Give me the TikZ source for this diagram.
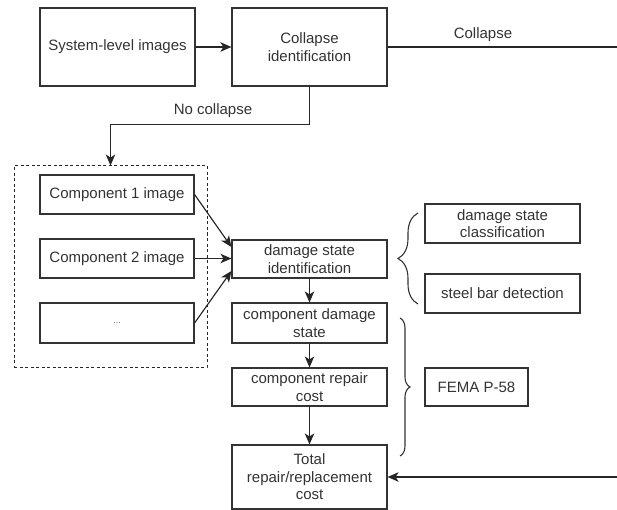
\documentclass[tikz,border=0pt]{standalone}
\usepackage{fontspec}
\setmainfont{Liberation Sans}
\usetikzlibrary{arrows.meta,decorations.pathreplacing,calc}
\begin{document}
\begin{tikzpicture}[x=1pt,y=-1pt,
  box/.style={draw=black!80,line width=1.15pt,align=center,inner sep=2pt,
    font=\fontsize{15}{17.5}\selectfont,text=black!80},
  grpbox/.style={draw=black!85,line width=1pt,dash pattern=on 3pt off 2.5pt},
  arr/.style={draw=black!85,line width=1.15pt,-{Stealth[length=11pt,width=9.5pt,inset=3pt]}},
  ln/.style={draw=black!85,line width=1.15pt},
  lbl/.style={font=\fontsize{15}{17.5}\selectfont,text=black!80},
  brc/.style={draw=black!80,line width=1.1pt,decorate,decoration={brace,aspect=0.5}}]
\useasboundingbox (0,0) rectangle (617,510);
\node[box,minimum width=155pt,minimum height=78pt] (sys) at (117.5,47) {System-level images};
\node[box,minimum width=155pt,minimum height=78pt] (coll) at (309.5,47) {Collapse\\identification};
\node[grpbox,minimum width=193pt,minimum height=201pt] (grp) at (110.5,266.5) {};
\node[box,minimum width=154pt,minimum height=39pt] (c1) at (117,194.5) {Component 1 image};
\node[box,minimum width=154pt,minimum height=39pt] (c2) at (117,258.5) {Component 2 image};
\node[box,minimum width=154pt,minimum height=40pt] (c3) at (117,323) {\fontsize{9}{10}\selectfont\color{black!60}...};
\node[box,minimum width=155pt,minimum height=38pt] (dsi) at (309.5,259) {damage state\\identification};
\node[box,minimum width=155pt,minimum height=40pt] (cds) at (309.5,323) {component damage\\state};
\node[box,minimum width=155pt,minimum height=38pt] (crc) at (309.5,387) {component repair\\cost};
\node[box,minimum width=155pt,minimum height=64pt] (tot) at (309.5,477) {Total\\repair/replacement\\cost};
\node[box,minimum width=155pt,minimum height=39pt] (dsc) at (502.5,223.5) {damage state\\classification};
\node[box,minimum width=155pt,minimum height=39pt] (sbd) at (502.5,293.5) {steel bar detection};
\node[box,minimum width=103pt,minimum height=38pt] (fema) at (476.5,387) {FEMA P-58};
\coordinate (r1) at (617,47);
\coordinate (r2) at (617,477);
\draw[arr] (sys) -- (coll);
\draw[ln] (coll.east) -- (r1);
\node[lbl] (lc) at (483,35) {Collapse};
\draw[arr] (coll.south) -- ++(0,38) -| (grp.north);
\node[lbl] (lnc) at (213,111) {No collapse};
\draw[arr] (c1.east) -- ([yshift=12pt]dsi.west);
\draw[arr] (c2.east) -- (c2.east -| dsi.west);
\draw[arr] (c3.east) -- ([yshift=-12pt]dsi.west);
\draw[arr] (dsi) -- (cds);
\draw[arr] (cds) -- (crc);
\draw[arr] (crc) -- (tot);
\draw[arr] (r2) -- (tot.east);
\coordinate (b1a) at (418,304);
\coordinate (b1b) at (418,213);
\draw[brc,decoration={amplitude=20pt}] (b1a) -- (b1b);
\coordinate (b2a) at (400,318);
\coordinate (b2b) at (400,456);
\draw[brc,decoration={amplitude=10pt}] (b2a) -- (b2b);
\end{tikzpicture}
\end{document}
